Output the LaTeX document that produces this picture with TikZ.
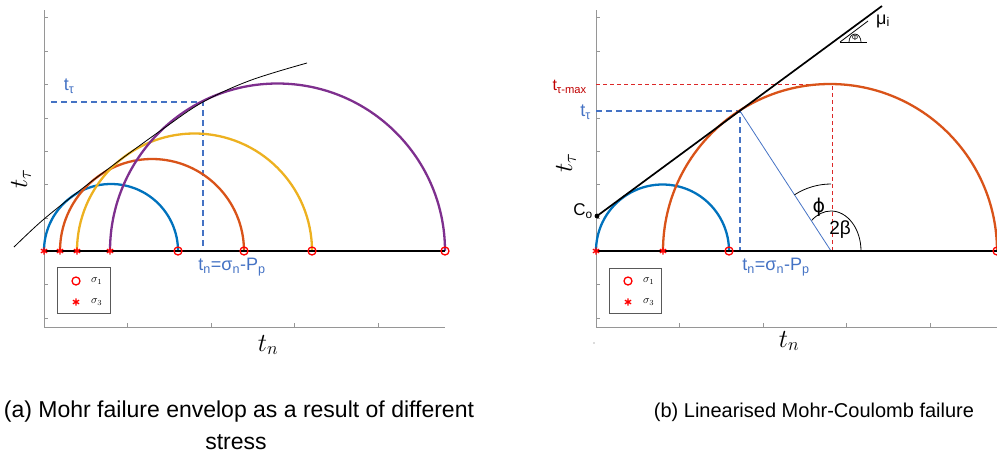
\RequirePackage{fix-cm}
\documentclass[tikz,border=0pt]{standalone}
\usepackage{fontspec}
\setmainfont{Liberation Sans}
\newfontfamily\djvfont{DejaVu Sans}
\usetikzlibrary{plotmarks}
\definecolor{mblue}{RGB}{0,114,189}
\definecolor{morange}{RGB}{217,83,25}
\definecolor{myellow}{RGB}{237,177,32}
\definecolor{mpurple}{RGB}{126,47,142}
\definecolor{lblue}{RGB}{68,114,196}
\definecolor{rdashc}{RGB}{220,40,40}
\definecolor{dredc}{RGB}{192,0,0}
\definecolor{axgray}{RGB}{150,150,150}
\begin{document}
\begin{tikzpicture}[x=1pt,y=-1pt,
  axisline/.style={draw=axgray,line width=0.9pt},
  tickline/.style={draw=axgray,line width=0.6pt},
  zeroline/.style={draw=black,line width=2.5pt},
  mohr/.style={line width=2.3pt},
  bdash/.style={draw=lblue,dash pattern=on 6pt off 4pt,line width=1.4pt},
  rdash/.style={draw=rdashc,dash pattern=on 4pt off 3pt,line width=1pt},
  blabel/.style={text=lblue,inner sep=0pt,font=\fontsize{18}{20}\selectfont},
  axlabel/.style={inner sep=0pt,font=\fontsize{26}{30}\selectfont},
  legbox/.style={draw=black!65,line width=0.6pt,inner sep=0pt},
  legtext/.style={inner sep=0pt,anchor=west,font=\fontsize{11}{12}\selectfont},
  captext/.style={inner sep=0pt,font=\fontsize{20}{24}\selectfont},
  captextA/.style={inner sep=0pt,font=\fontsize{23}{27}\selectfont},
  sone/.style={mark=o,only marks,mark size=4pt,mark options={draw=red,line width=1.3pt}},
  sthree/.style={mark=asterisk,only marks,mark size=3.6pt,mark options={draw=red,line width=1.3pt}}
]
\useasboundingbox (0,0) rectangle (997,459);

% ---------------- left plot ----------------
\coordinate (Lo) at (44,327);
\coordinate (Lt) at (44,10);
\coordinate (Lr) at (445,327);
\draw[axisline] (Lt) -- (Lo) -- (Lr);
\foreach \yy in {17,51,84,118,151,184,218,284,318} \draw[tickline] (44,\yy) -- ++(4,0);
\foreach \xx in {127.5,211,294.5,378} \draw[tickline] (\xx,327) -- ++(0,-4);

% dashed guides
\coordinate (tpL) at (203,102);
\coordinate (tpLh) at (51,102);
\coordinate (tpLv) at (203,251);
\draw[bdash] (tpLh) -- (tpL) -- (tpLv);

% Mohr circles
\coordinate (L0) at (44,251);
\coordinate (L9) at (445,251);
\draw[mohr,mblue] (178,251) arc[start angle=0,end angle=180,radius=67pt];
\draw[mohr,morange] (244,251) arc[start angle=0,end angle=180,radius=92pt];
\draw[mohr,myellow] (312,251) arc[start angle=0,end angle=180,radius=117.5pt];
\draw[mohr,mpurple] (445,251) arc[start angle=0,end angle=180,radius=167.5pt];

% envelope
\draw[line width=0.8pt] plot[smooth,tension=0.6] coordinates {(14,247) (40,222.5) (67.3,200.2) (96.8,177.4) (128.4,153.8) (165,127.5) (203,102) (250,80.5) (307,63)};

\draw[zeroline] (L0) -- (L9);
\path plot[sone] coordinates {(178,251) (244,251) (312,251) (445,251)};
\path plot[sthree] coordinates {(44,251) (60,251) (77,251) (110,251)};

% labels
\node[blabel] (ttL) at (69,86) {t\textsubscript{τ}};
\node[blabel] (tnL) at (232,267) {t\textsubscript{n}=σ\textsubscript{n}-P\textsubscript{p}};
\node[axlabel,rotate=90] (ylL) at (21,179) {$t_\tau$};
\node[axlabel] (xlL) at (268,345) {$t_n$};

% legend
\node[legbox,minimum width=53pt,minimum height=46pt] (legL) at (83.5,290.5) {};
\path plot[sone] coordinates {(76,281)};
\path plot[sthree] coordinates {(76,302)};
\node[legtext] (ls1) at (91,281) {$\sigma_1$};
\node[legtext] (ls3) at (91,302) {$\sigma_3$};

% ---------------- right plot ----------------
\coordinate (Ro) at (596,327);
\coordinate (Rt) at (596,10);
\coordinate (Rr) at (997,327);
\draw[axisline] (Rt) -- (Ro) -- (Rr);
\foreach \yy in {17,51,84,118,151,184,218,284,318} \draw[tickline] (596,\yy) -- ++(4,0);
\foreach \xx in {679.5,763,846.5,930} \draw[tickline] (\xx,327) -- ++(0,-4);

\coordinate (cR) at (831,251);
\coordinate (tpR) at (740,111);
\coordinate (mxR) at (832,84);
\coordinate (mxRa) at (596,84);
\coordinate (mxRb) at (832,251);
\coordinate (tpRh) at (596,111);
\coordinate (tpRv) at (740,251);
\draw[rdash] (mxRa) -- (mxR) -- (mxRb);
\draw[bdash] (tpRh) -- (tpR) -- (tpRv);

\draw[mohr,mblue] (729,251) arc[start angle=0,end angle=180,radius=66.5pt];
\draw[mohr,morange] (997,251) arc[start angle=0,end angle=180,radius=167pt];

\draw[lblue,line width=0.8pt] (tpR) -- (cR);

% Coulomb line
\coordinate (Co) at (597,216);
\coordinate (muE) at (882,6);
\draw[line width=1.7pt] (Co) -- (muE);
\fill (Co) circle (2.4pt);

% angle arcs
\draw[line width=0.8pt] (831,184) arc[start angle=90,end angle=123,radius=67pt];
\draw[line width=0.8pt] (861,251) arc[start angle=0,end angle=130,x radius=30pt,y radius=40pt];
\node[inner sep=0pt,font=\djvfont\fontsize{19}{22}\selectfont] (phiL) at (819,207) {ϕ};
\node[inner sep=0pt,font=\fontsize{19}{22}\selectfont] (bL) at (840,230) {2β};

% small friction symbol
\coordinate (sA) at (840,42);
\coordinate (sB) at (868,21);
\coordinate (sC) at (867,42);
\draw[line width=0.8pt] (sA) -- (sB);
\draw[line width=0.8pt] (sA) -- (sC);
\draw[line width=0.7pt] (861,42) arc[start angle=0,end angle=180,x radius=6pt,y radius=8pt];
\node[inner sep=0pt,font=\fontsize{8}{9}\selectfont] (phS) at (855,38) {Φ};
\node[inner sep=0pt,anchor=west,font=\fontsize{18}{20}\selectfont] (muL) at (876,21) {μ\textsubscript{i}};

\draw[zeroline] (596,251) -- (997,251);
\path plot[sone] coordinates {(729,251) (997,251)};
\path plot[sthree] coordinates {(596,251) (663,251)};

% labels
\node[inner sep=0pt,anchor=east,text=dredc,font=\fontsize{16}{18}\selectfont] (tmax) at (587,87) {t\textsubscript{τ-max}};
\node[blabel,anchor=east] (ttR) at (591,112) {t\textsubscript{τ}};
\node[inner sep=0pt,anchor=east,font=\fontsize{17}{19}\selectfont] (CoL) at (593,211) {C\textsubscript{o}};
\node[blabel] (tnR) at (776,267) {t\textsubscript{n}=σ\textsubscript{n}-P\textsubscript{p}};
\node[axlabel,rotate=90] (ylR) at (566,163) {$t_\tau$};
\node[axlabel] (xlR) at (789,341) {$t_n$};
\fill[black!60] (594,343) circle (0.7pt);

% legend
\node[legbox,minimum width=52pt,minimum height=45pt] (legR) at (635,290.5) {};
\path plot[sone] coordinates {(628,281)};
\path plot[sthree] coordinates {(628,302)};
\node[legtext] (rs1) at (643,281) {$\sigma_1$};
\node[legtext] (rs3) at (643,302) {$\sigma_3$};

% captions
\node[captextA] (capA) at (239,412) {(a) Mohr failure envelop as a result of different};
\node[captextA] (capA2) at (236,442) {stress};
\node[captext] (capB) at (814,412) {(b) Linearised Mohr-Coulomb failure};
\end{tikzpicture}
\end{document}
